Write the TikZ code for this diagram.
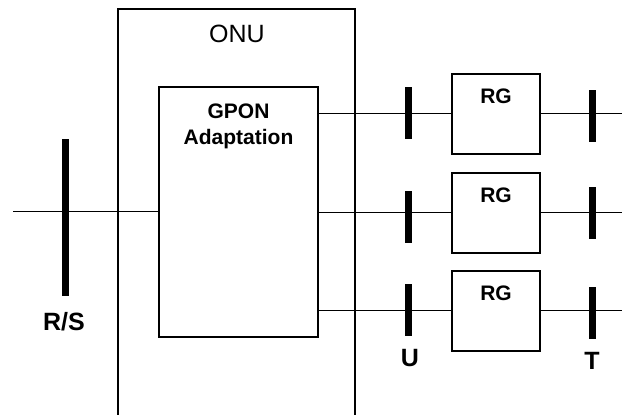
\documentclass[tikz,border=0pt]{standalone}
\usepackage{fontspec}
\setmainfont{Liberation Sans}
\usetikzlibrary{positioning}

\begin{document}
\begin{tikzpicture}[
                x=1pt, y=-1pt,
                line width=1.8pt,
                box/.style={draw, line width=2pt, inner sep=0pt},
                onubox/.style={
                        draw, line width=1.6pt,
                        minimum width=237pt, minimum height=440pt,
                        anchor=north
                    },
                gpon/.style={box, minimum width=159pt, minimum height=250pt},
                rg/.style={
                        box, minimum width=88pt, minimum height=80pt,
                        label={[font=\fontsize{21}{24}\bfseries\selectfont, anchor=center, yshift=-24pt]north:RG}
                    },
                bar/.style={fill=black, inner sep=0pt, minimum width=7pt, minimum height=52pt},
                tag/.style={font=\fontsize{25}{28}\bfseries\selectfont, inner sep=0pt},
                ]
                \useasboundingbox (0,0) rectangle (622,415);
                \clip (0,0) rectangle (622,415);

                % ONU with the GPON adaptation block
                \node[onubox] (onu) at (236.5,8) {};
                \node[font=\fontsize{25}{28}\selectfont, inner sep=0pt] (onulbl) at (237,34) {ONU};
                \node[gpon] (gp) at (238.5,212) {};
                \node[font=\fontsize{21}{26}\bfseries\selectfont, align=center, anchor=north, inner sep=0pt] (gptxt) at (238.5,103) {GPON\\Adaptation};

                % R/S reference point
                \node[bar, minimum height=157pt] (rs) at (65,217.5) {};
                \node[tag] (rslbl) at (64,321.5) {R/S};
                \coordinate (in) at (13,211.5);
                \draw (in) -- (in -| gp.west);

                % residential gateways with U and T points
                \foreach \i/\y/\uy/\ty in {1/113.5/113/116, 2/212.5/217/213, 3/310.5/310/313} {
                        \node[rg] (rg\i) at (496,\y) {};
                        \node[bar] (u\i) at (408,\uy) {};
                        \node[bar] (t\i) at (592,\ty) {};
                        \coordinate (out\i) at (622,\y);
                        \draw (gp.east |- rg\i.west) -- (rg\i.west);
                        \draw (rg\i.east) -- (out\i);
                    }
                \node[tag] (ulbl) at (410,358.5) {U};
                \node[tag] (tlbl) at (592,361) {T};
            \end{tikzpicture}
\end{document}
